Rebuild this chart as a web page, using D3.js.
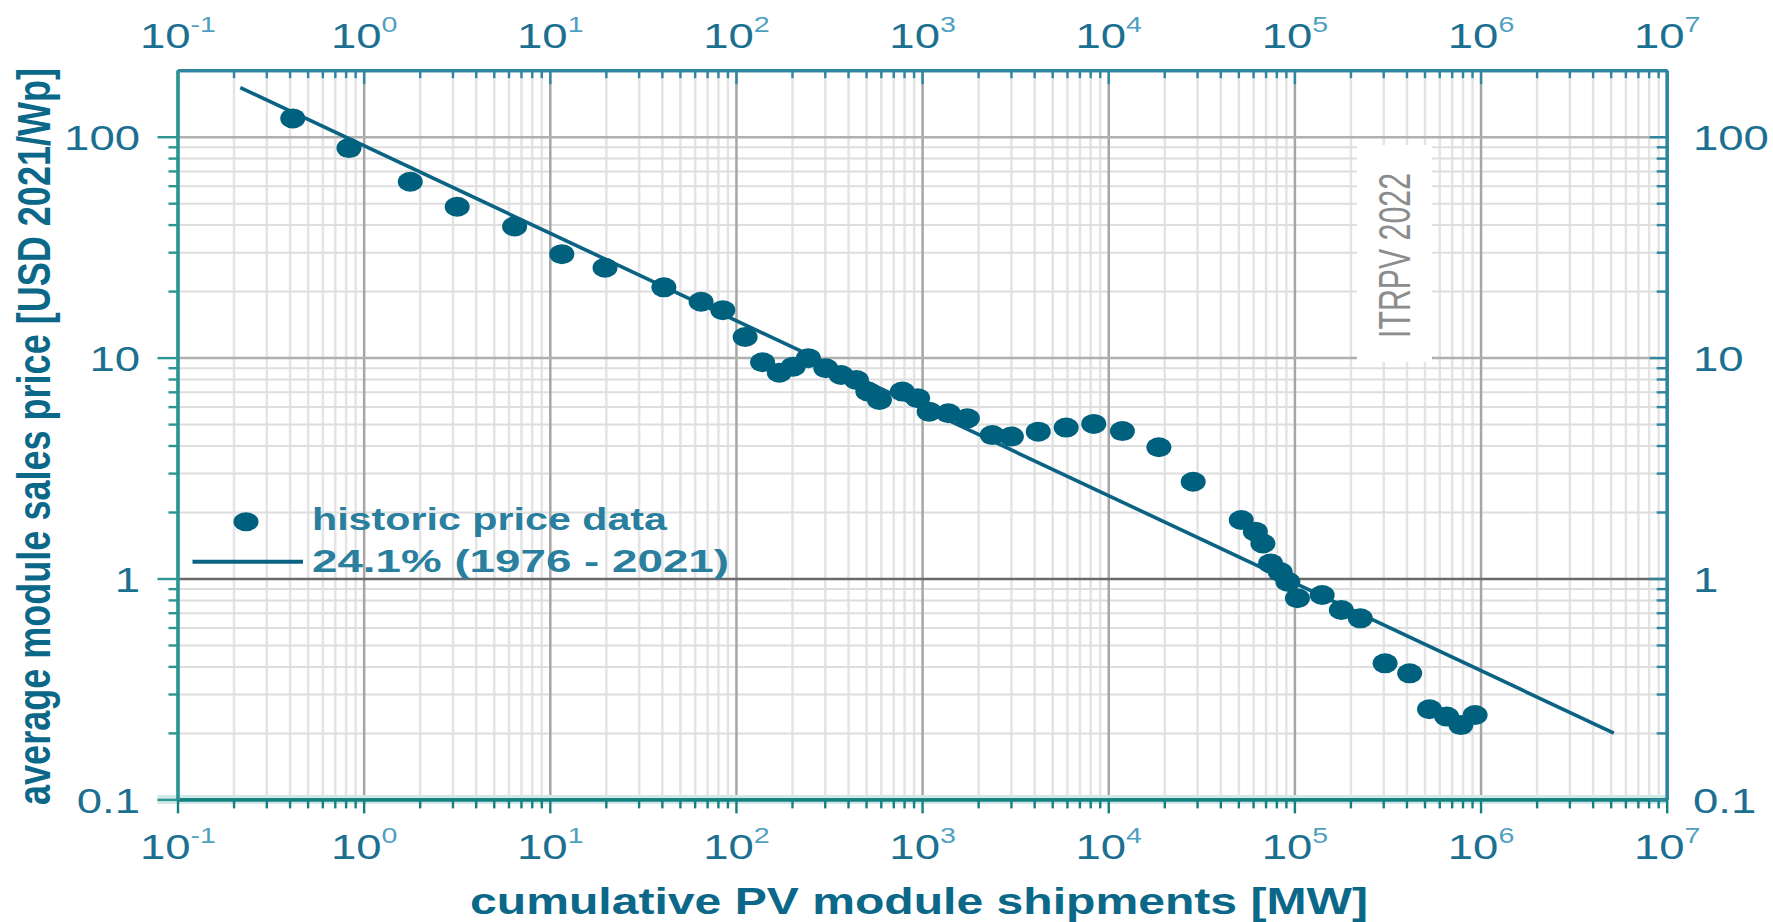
<!DOCTYPE html>
<html>
<head>
<meta charset="utf-8">
<script src="https://cdn.jsdelivr.net/npm/d3@7"></script>
<style>
  html, body { margin: 0; padding: 0; background: #ffffff; }
  svg { display: block; }
  text { font-family: "Liberation Sans", Arial, sans-serif; }
</style>
</head>
<body>
<svg id="chart" width="1773" height="922"></svg>
<script>
// ---------------- data ----------------
const shipmentsMW = [0.416, 0.834, 1.78, 3.18, 6.47, 11.6, 19.8, 41, 65, 85, 112, 139, 171, 203, 245, 304, 367, 444, 511, 590, 783, 946, 1091, 1384, 1751, 2383, 3018, 4207, 5943, 8356, 11910, 18700, 28600, 51800, 61700, 67700, 74500, 83900, 92200, 103800, 141000, 178700, 226000, 307000, 416000, 532000, 658000, 784000, 935000];
const pricesUSD = [121, 88.8, 62.5, 48.2, 39.2, 29.4, 25.5, 20.8, 17.9, 16.4, 12.4, 9.53, 8.55, 9.1, 9.94, 8.95, 8.34, 7.92, 7.02, 6.43, 7.02, 6.55, 5.69, 5.60, 5.31, 4.46, 4.39, 4.62, 4.82, 5.01, 4.65, 3.93, 2.74, 1.84, 1.63, 1.44, 1.17, 1.07, 0.967, 0.814, 0.842, 0.72, 0.66, 0.413, 0.372, 0.256, 0.237, 0.217, 0.241];
const fitX = [0.2175, 5.2e6];
const fitY = [166.8, 0.1995];
const xMajorTicks = [1e-1, 1e0, 1e1, 1e2, 1e3, 1e4, 1e5, 1e6, 1e7];
const xExponents = ["-1", "0", "1", "2", "3", "4", "5", "6", "7"];
const yMajorTicks = [0.1, 1, 10, 100];
const yTickLabels = ["0.1", "1", "10", "100"];
const legendLabels = ["historic price data", "24.1% (1976 - 2021)"];
const xTitle = "cumulative PV module shipments [MW]";
const yTitle = "average module sales price [USD 2021/Wp]";
const watermark = "ITRPV 2022";

// ---------------- layout ----------------
const svg = d3.select("#chart");
const L = 177.5, R = 1666.7, T = 70.2, B = 799.4;
const x = d3.scaleLog().domain([0.1, 1e7]).range([L, R]);
const y = d3.scaleLog().domain([0.1, 200]).range([B, T]);
const SX = 1.3; // horizontal glyph stretch seen in the reference

const xMinor = [];
for (let d = -1; d <= 6; d++) for (let k = 2; k <= 9; k++) xMinor.push(+(k * Math.pow(10, d)).toPrecision(3));
const yMinor = [];
for (let d = -1; d <= 1; d++) for (let k = 2; k <= 9; k++) yMinor.push(+(k * Math.pow(10, d)).toPrecision(3));

const tickCol = "#1b6f90", expCol = "#4f9fc0", titleCol = "#0b6888";
const dotCol = "#00617e", lineCol = "#0b6383";

svg.append("rect").attr("width", 1773).attr("height", 922).attr("fill", "#fff");

// ---------------- grid ----------------
const grid = svg.append("g");
function gridStyle(g, col, w) {
  g.select(".domain").remove();
  g.selectAll(".tick line").attr("stroke", col).attr("stroke-width", w);
  g.selectAll(".tick text").remove();
}
grid.append("g").attr("transform", `translate(0,${B})`)
  .call(d3.axisBottom(x).tickValues(xMinor).tickSize(-(B - T)).tickFormat(""))
  .call(g => gridStyle(g, "#e4e4e4", 2.5));
grid.append("g").attr("transform", `translate(${L},0)`)
  .call(d3.axisLeft(y).tickValues(yMinor).tickSize(-(R - L)).tickFormat(""))
  .call(g => gridStyle(g, "#dedede", 2));
grid.append("g").attr("transform", `translate(0,${B})`)
  .call(d3.axisBottom(x).tickValues(xMajorTicks.slice(1, -1)).tickSize(-(B - T)).tickFormat(""))
  .call(g => gridStyle(g, "#a6a6a6", 2.5));
grid.append("g").attr("transform", `translate(${L},0)`)
  .call(d3.axisLeft(y).tickValues([10, 100]).tickSize(-(R - L)).tickFormat(""))
  .call(g => gridStyle(g, "#b0b0b0", 2.5));
grid.append("g").attr("transform", `translate(${L},0)`)
  .call(d3.axisLeft(y).tickValues([1]).tickSize(-(R - L)).tickFormat(""))
  .call(g => gridStyle(g, "#6a6a6a", 2.5));

// ---------------- watermark ----------------
svg.append("rect").attr("x", 1357).attr("y", 145).attr("width", 75).attr("height", 217).attr("fill", "#fff");
svg.append("text")
  .attr("transform", `translate(1410,255.5) scale(${SX},1) rotate(-90)`)
  .attr("text-anchor", "middle").attr("font-size", 34).attr("fill", "#8c8c8c")
  .attr("textLength", 165).attr("lengthAdjust", "spacingAndGlyphs")
  .text(watermark);

// ---------------- fit line & data ----------------
const fitData = fitX.map((v, i) => [v, fitY[i]]);
svg.append("path").datum(fitData)
  .attr("d", d3.line().x(d => x(d[0])).y(d => y(d[1])))
  .attr("fill", "none").attr("stroke", lineCol).attr("stroke-width", 3.6);

svg.append("g").selectAll("ellipse")
  .data(shipmentsMW.map((v, i) => [v, pricesUSD[i]]))
  .join("ellipse")
  .attr("cx", d => x(d[0])).attr("cy", d => y(d[1]))
  .attr("rx", 12.5).attr("ry", 10).attr("fill", dotCol);

// ---------------- axes ----------------
function axisStyle(g, col) {
  g.select(".domain").attr("stroke", col).attr("stroke-width", 3.2);
  g.selectAll(".tick line").attr("stroke", col).attr("stroke-width", 2.4);
}
// bottom halo
svg.append("line").attr("x1", L - 20).attr("x2", R).attr("y1", B).attr("y2", B)
  .attr("stroke", "#cfe8e8").attr("stroke-width", 9);

// bottom
svg.append("g").attr("transform", `translate(0,${B})`)
  .call(d3.axisBottom(x).tickValues(xMinor).tickSize(9).tickSizeOuter(0).tickFormat(""))
  .call(g => axisStyle(g, "#148080"));
const bottomMajor = svg.append("g").attr("transform", `translate(0,${B})`)
  .call(d3.axisBottom(x).tickValues(xMajorTicks).tickSize(14).tickSizeOuter(0).tickFormat(""))
  .call(g => axisStyle(g, "#148080"));
// top
svg.append("g").attr("transform", `translate(0,${T})`)
  .call(d3.axisTop(x).tickValues(xMinor).tickSize(-8).tickSizeOuter(0).tickFormat(""))
  .call(g => axisStyle(g, "#2f86a0"));
const topMajor = svg.append("g").attr("transform", `translate(0,${T})`)
  .call(d3.axisTop(x).tickValues(xMajorTicks).tickSize(-14).tickSizeOuter(0).tickFormat(""))
  .call(g => axisStyle(g, "#2f86a0"));
// left
svg.append("g").attr("transform", `translate(${L},0)`)
  .call(d3.axisLeft(y).tickValues(yMinor).tickSize(9).tickSizeOuter(0).tickFormat(""))
  .call(g => axisStyle(g, "#2a9592"));
const leftMajor = svg.append("g").attr("transform", `translate(${L},0)`)
  .call(d3.axisLeft(y).tickValues(yMajorTicks).tickSize(20).tickSizeOuter(0).tickFormat(""))
  .call(g => axisStyle(g, "#2a9592"));
// right
svg.append("g").attr("transform", `translate(${R},0)`)
  .call(d3.axisRight(y).tickValues(yMinor).tickSize(-10).tickSizeOuter(0).tickFormat(""))
  .call(g => axisStyle(g, "#2f85a0"));
const rightMajor = svg.append("g").attr("transform", `translate(${R},0)`)
  .call(d3.axisRight(y).tickValues(yMajorTicks).tickSize(-17).tickSizeOuter(0).tickFormat(""))
  .call(g => axisStyle(g, "#2f85a0"));

// x tick labels with superscripts
function powerLabels(g, baseY) {
  g.selectAll(".tick text").each(function (d) {
    const i = xMajorTicks.indexOf(d);
    const t = d3.select(this);
    t.text(null).attr("y", baseY).attr("dy", null).attr("fill", tickCol)
      .attr("font-size", 35).attr("text-anchor", "middle")
      .attr("transform", `scale(${SX},1)`);
    t.append("tspan").text("10");
    t.append("tspan").attr("dy", -16).attr("font-size", 22).attr("fill", expCol).text(xExponents[i]);
  });
}
bottomMajor.call(g => powerLabels(g, 60));
topMajor.call(g => powerLabels(g, -22));

function yLabels(g, dx, anchor) {
  g.selectAll(".tick text").each(function (d) {
    const i = yMajorTicks.indexOf(d);
    d3.select(this).text(yTickLabels[i]).attr("x", dx / SX).attr("dy", "0.36em")
      .attr("fill", tickCol).attr("font-size", 35).attr("text-anchor", anchor)
      .attr("transform", `scale(${SX},1)`);
  });
}
leftMajor.call(g => yLabels(g, -37.5, "end"));
rightMajor.call(g => yLabels(g, 26.3, "start"));

// ---------------- titles ----------------
svg.append("text")
  .attr("transform", `translate(919,914) scale(${SX},1)`)
  .attr("text-anchor", "middle").attr("font-size", 37).attr("font-weight", "bold")
  .attr("fill", titleCol).text(xTitle);
svg.append("text")
  .attr("transform", `translate(50,436.5) scale(${SX},1) rotate(-90)`)
  .attr("text-anchor", "middle").attr("font-size", 36).attr("font-weight", "bold")
  .attr("fill", titleCol).attr("textLength", 737).attr("lengthAdjust", "spacingAndGlyphs")
  .text(yTitle);

// ---------------- legend ----------------
const lg = svg.append("g");
lg.append("ellipse").attr("cx", 246).attr("cy", 521.7).attr("rx", 12.5).attr("ry", 9.5).attr("fill", dotCol);
lg.append("line").attr("x1", 192.5).attr("x2", 303).attr("y1", 561.7).attr("y2", 561.7)
  .attr("stroke", lineCol).attr("stroke-width", 4);
lg.append("text").attr("transform", `translate(312,530) scale(${SX},1)`)
  .attr("font-size", 31).attr("font-weight", "bold").attr("fill", "#2a7e9e")
  .attr("textLength", 355 / SX).attr("lengthAdjust", "spacingAndGlyphs").text(legendLabels[0]);
lg.append("text").attr("transform", `translate(312,571.7) scale(${SX},1)`)
  .attr("font-size", 31).attr("font-weight", "bold").attr("fill", "#2a7e9e")
  .attr("textLength", 417 / SX).attr("lengthAdjust", "spacingAndGlyphs").text(legendLabels[1]);
</script>
</body>
</html>
